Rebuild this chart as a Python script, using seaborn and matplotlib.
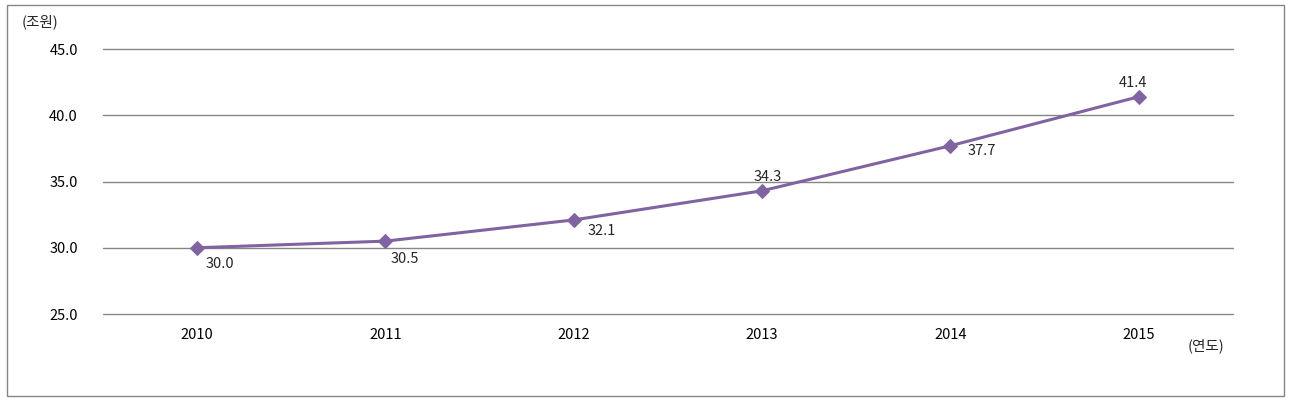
import matplotlib
matplotlib.use("Agg")
import matplotlib.pyplot as plt
import seaborn as sns
import pandas as pd
from matplotlib.patches import Rectangle

years = ["2010", "2011", "2012", "2013", "2014", "2015"]
values = [30.0, 30.5, 32.1, 34.3, 37.7, 41.4]
# label offsets in points (dx, dy) relative to each marker
label_offsets = [(6, -12), (4, -13), (10, -8), (4, 10), (12, -4), (-4, 10)]

sns.set_style("white")
plt.rcParams['font.family'] = ['Noto Sans CJK KR', 'DejaVu Sans']

df = pd.DataFrame({"year": years, "value": values})

fig = plt.figure(figsize=(12.92, 4.07), dpi=100)
ax = fig.add_axes([0.0797, 0.2285, 0.8746, 0.6511])

purple = "#8064A2"
sns.lineplot(data=df, x="year", y="value", ax=ax, color=purple, lw=2.2,
             marker="D", markersize=7, markeredgecolor=purple, sort=False)

ax.set_xlim(-0.5, len(years) - 0.5)
ax.set_ylim(25, 45)
ax.set_yticks([25, 30, 35, 40, 45])
ax.set_yticklabels([f"{v:.1f}" for v in [25, 30, 35, 40, 45]])
ax.yaxis.grid(True, color="#868686", lw=1)
for gl in ax.get_ygridlines():
    gl.set_clip_on(False)
ax.set_axisbelow(True)
for s in ax.spines.values():
    s.set_visible(False)
ax.tick_params(axis="both", length=0, labelsize=10.5, colors="black")
ax.tick_params(axis="y", pad=18)
ax.tick_params(axis="x", pad=10)
ax.set_xlabel("")
ax.set_ylabel("")

for i, (v, off) in enumerate(zip(values, label_offsets)):
    ha = "center" if off[1] > 0 else "left"
    ax.annotate(f"{v:.1f}", (i, v), xytext=off, textcoords="offset points",
                fontsize=10.5, ha=ha, va="center")

fig.text(22 / 1292, 1 - 22 / 407, "(조원)", fontsize=10.5, ha="left", va="center")
fig.text(1188 / 1292, 1 - 346 / 407, "(연도)", fontsize=10.5, ha="left", va="center")

fig.patches.append(Rectangle((7 / 1292, 1 - 396 / 407), 1277 / 1292, 391 / 407,
                             transform=fig.transFigure, fill=False,
                             edgecolor="#868686", lw=1))

fig.savefig("out.png", dpi=100)
